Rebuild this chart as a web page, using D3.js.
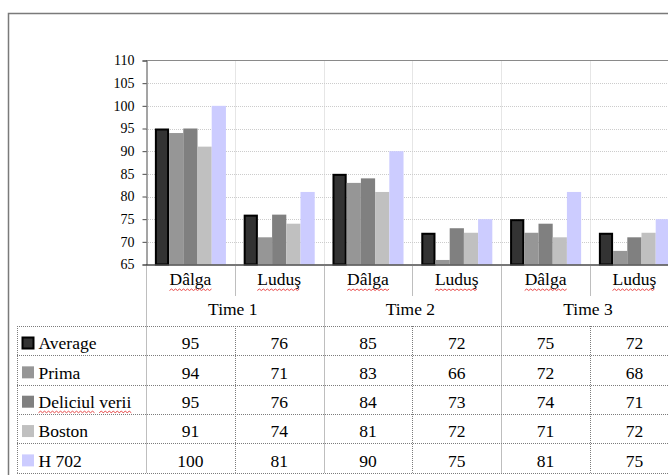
<!DOCTYPE html>
<html>
<head>
<meta charset="utf-8">
<script src="https://cdn.jsdelivr.net/npm/d3@7"></script>
<style>
  html, body { margin: 0; padding: 0; background: #fff; }
  svg { display: block; }
  text { font-family: "Liberation Serif", "Times New Roman", serif; fill: #000; }
</style>
</head>
<body>
<svg id="chart" width="668" height="475"></svg>
<script>
// Groups along the x axis and the sites measured in each of them
const times = ["Time 1", "Time 2", "Time 3"];
const sites = ["Dâlga", "Luduş"];

// Variety names, in drawing order
const seriesNames = ["Average", "Prima", "Deliciul verii", "Boston", "H 702"];
const seriesColors = ["#333333", "#969696", "#808080", "#c0c0c0", "#ccccff"];

// Values per category: Time1 Dâlga, Time1 Luduş, Time2 Dâlga, ...
const average  = [95, 76, 85, 72, 75, 72];
const prima    = [94, 71, 83, 66, 72, 68];
const deliciul = [95, 76, 84, 73, 74, 71];
const boston   = [91, 74, 81, 72, 71, 72];
const h702     = [100, 81, 90, 75, 81, 75];

const yTicks = [65, 70, 75, 80, 85, 90, 95, 100, 105, 110];

const seriesValues = [average, prima, deliciul, boston, h702];
const categories = [];
times.forEach(t => sites.forEach(s => categories.push(t + "|" + s)));

const svg = d3.select("#chart");
const W = 668;

// layout
const plotLeft = 146, plotTop = 60.5, plotBottom = 264.5;
const catStep = 88.8;
const plotRight = plotLeft + catStep * categories.length;
const labelRowY = 296;          // bottom of the site-label row
const tableTop = 326;
const rowH = 29.35;

const x = d3.scaleBand().domain(categories).range([plotLeft, plotRight]).padding(0);
const xs = d3.scaleBand().domain(seriesNames).range([0, x.bandwidth()])
  .paddingInner(0).paddingOuter(0.625);
const y = d3.scaleLinear().domain([65, 110]).range([plotBottom, plotTop]);

// outer frame
svg.append("path").attr("d", `M8.5,475 V13.5 H${W}`)
  .attr("fill", "none").attr("stroke", "#7a7a7a").attr("stroke-width", 1.5);

// horizontal gridlines
svg.append("g").selectAll("line").data(yTicks.slice(1, -1)).join("line")
  .attr("x1", plotLeft).attr("x2", plotRight)
  .attr("y1", d => Math.round(y(d)) + 0.5).attr("y2", d => Math.round(y(d)) + 0.5)
  .attr("stroke", "#cccccc").attr("stroke-dasharray", "1,1");

// vertical category gridlines inside the plot
svg.append("g").selectAll("line").data(categories.slice(1)).join("line")
  .attr("x1", d => Math.round(x(d)) + 0.5).attr("x2", d => Math.round(x(d)) + 0.5)
  .attr("y1", plotTop).attr("y2", plotBottom)
  .attr("stroke", "#cccccc").attr("stroke-dasharray", "1,1");

// plot top border
svg.append("line").attr("x1", plotLeft).attr("x2", plotRight)
  .attr("y1", plotTop).attr("y2", plotTop)
  .attr("stroke", "#8a8a8a").attr("stroke-width", 1.2);

// bars
const bars = svg.append("g");
seriesNames.forEach((name, si) => {
  bars.append("g").selectAll("rect").data(seriesValues[si]).join("rect")
    .attr("x", (d, i) => x(categories[i]) + xs(name) + (si === 0 ? 1 : 0))
    .attr("y", d => y(d) + (si === 0 ? 1 : 0))
    .attr("width", xs.bandwidth() - (si === 0 ? 2 : 0))
    .attr("height", d => y(65) - y(d) - (si === 0 ? 1 : 0))
    .attr("fill", seriesColors[si])
    .attr("stroke", si === 0 ? "#000" : "none")
    .attr("stroke-width", si === 0 ? 2 : 0);
});

// y axis
const yAxis = d3.axisLeft(y).tickValues(yTicks).tickSize(4).tickPadding(8);
const gy = svg.append("g").attr("transform", `translate(${plotLeft + 0.5},0)`).call(yAxis);
gy.select(".domain").attr("stroke", "#4a4a4a");
gy.selectAll(".tick line").attr("stroke", "#4a4a4a");
gy.selectAll(".tick text")
  .style("font-family", '"Liberation Serif", "Times New Roman", serif')
  .style("font-size", "14px").attr("fill", "#000");

// x baseline
svg.append("line").attr("x1", plotLeft).attr("x2", plotRight)
  .attr("y1", plotBottom + 0.5).attr("y2", plotBottom + 0.5)
  .attr("stroke", "#4a4a4a").attr("stroke-width", 1.6);

// data-table grid (dotted)
const grid = svg.append("g").attr("stroke", "#7c7c7c").attr("stroke-dasharray", "1,1")
  .attr("stroke-width", 1);
const tableBottom = tableTop + rowH * seriesNames.length;
// full-height separators: plot left edge and every group edge
const groupEdges = categories.filter((c, i) => i % sites.length === 0).map(c => x(c))
  .concat([plotRight]);
groupEdges.forEach(px => {
  grid.append("line").attr("x1", Math.round(px) + 0.5).attr("x2", Math.round(px) + 0.5)
    .attr("y1", plotBottom + 1).attr("y2", tableBottom);
});
// site separators inside each group: label row and table rows only
categories.filter((c, i) => i % sites.length !== 0).forEach(c => {
  const px = Math.round(x(c)) + 0.5;
  grid.append("line").attr("x1", px).attr("x2", px).attr("y1", plotBottom + 1).attr("y2", labelRowY);
  grid.append("line").attr("x1", px).attr("x2", px).attr("y1", tableTop).attr("y2", tableBottom);
});
// table horizontal rules
d3.range(seriesNames.length + 1).forEach(r => {
  const py = Math.round(tableTop + r * rowH) + 0.5;
  grid.append("line").attr("x1", 17).attr("x2", plotRight).attr("y1", py).attr("y2", py);
});
grid.append("line").attr("x1", 17.5).attr("x2", 17.5).attr("y1", tableTop).attr("y2", tableBottom);

// red spell-check squiggle under a piece of text
function squiggle(x0, x1, yy) {
  let d = `M${x0},${yy}`;
  let up = true;
  for (let px = x0 + 2; px <= x1; px += 2) {
    d += ` L${px},${yy + (up ? -1.5 : 0)}`;
    up = !up;
  }
  svg.append("path").attr("d", d).attr("fill", "none")
    .attr("stroke", "#e84848").attr("stroke-width", 1);
}

const fs = "17.5px";

// site labels
categories.forEach((c, i) => {
  const t = svg.append("text")
    .attr("x", x(c) + x.bandwidth() / 2).attr("y", 285)
    .attr("text-anchor", "middle").style("font-size", fs)
    .text(sites[i % sites.length]);
  const bb = t.node().getBBox();
  squiggle(bb.x, bb.x + bb.width, 290.5);
});

// time labels
times.forEach((t, i) => {
  const cx = x(categories[i * sites.length]) + x.bandwidth();
  svg.append("text").attr("x", cx - 2).attr("y", 315)
    .attr("text-anchor", "middle").style("font-size", fs).text(t);
});

// table rows: legend key, series name, values
seriesNames.forEach((name, si) => {
  const top = tableTop + si * rowH;
  svg.append("rect")
    .attr("x", si === 0 ? 22.5 : 22).attr("y", top + (si === 0 ? 11.5 : 11))
    .attr("width", si === 0 ? 11 : 12).attr("height", si === 0 ? 11 : 12)
    .attr("fill", seriesColors[si])
    .attr("stroke", si === 0 ? "#000" : "none").attr("stroke-width", si === 0 ? 2 : 0);
  const label = svg.append("text").attr("x", 38.5).attr("y", top + 23.3)
    .style("font-size", fs);
  if (name === "Deliciul verii") {
    label.append("tspan").text("Deliciul");
    label.append("tspan").text(" ");
    label.append("tspan").text("verii");
    const s0 = label.node().getStartPositionOfChar(0).x;
    const e0 = label.node().getEndPositionOfChar(7).x;
    const s1 = label.node().getStartPositionOfChar(9).x;
    const e1 = label.node().getEndPositionOfChar(13).x;
    squiggle(s0, e0, top + 28);
    squiggle(s1, e1, top + 28);
  } else {
    label.text(name);
  }
  svg.append("g").selectAll("text").data(seriesValues[si]).join("text")
    .attr("x", (d, i) => x(categories[i]) + x.bandwidth() / 2)
    .attr("y", top + 23.3)
    .attr("text-anchor", "middle").style("font-size", fs)
    .text(d => d);
});
</script>
</body>
</html>
